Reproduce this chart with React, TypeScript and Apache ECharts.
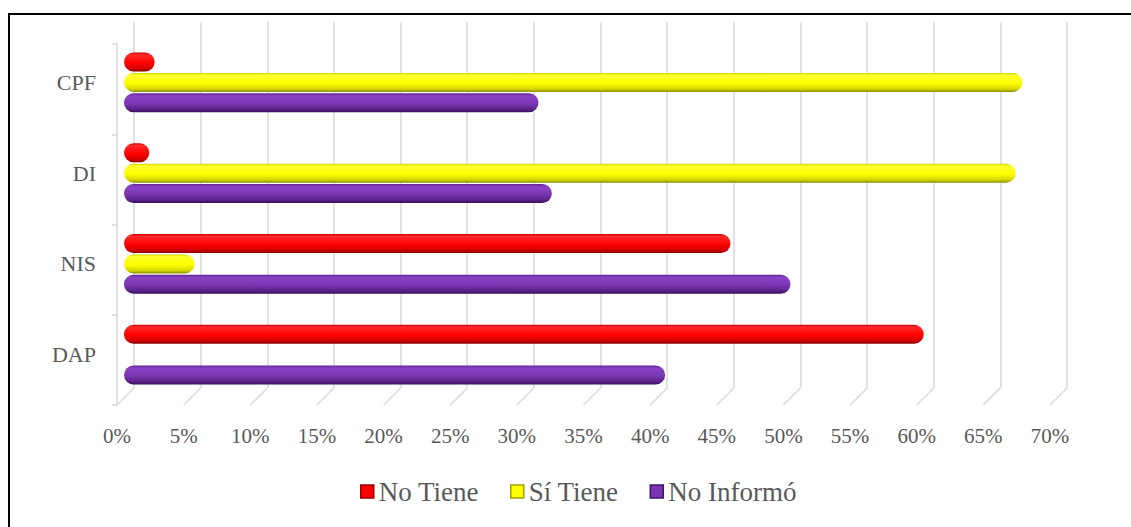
import React, { useEffect, useRef } from "react";
import * as echarts from "echarts";

const categories = ["DAP", "NIS", "DI", "CPF"];
const seriesNames = ["No Tiene", "Sí Tiene", "No Informó"];
const noTiene = [60.0, 45.5, 1.9, 2.3];
const siTiene = [0, 5.3, 66.9, 67.4];
const noInformo = [40.6, 50.0, 32.1, 31.1];
const tickValues = [0, 5, 10, 15, 20, 25, 30, 35, 40, 45, 50, 55, 60, 65, 70];

const FONT = "Times New Roman";
const GRID_LINE = "#d9d9d9";

function grad(stops: [number, string][]) {
  return new echarts.graphic.LinearGradient(
    0, 0, 0, 1,
    stops.map(([offset, color]) => ({ offset, color }))
  );
}

const redGrad = () =>
  grad([
    [0, "#c80000"],
    [0.12, "#ff2a2a"],
    [0.55, "#ff0000"],
    [0.85, "#d00000"],
    [1, "#800000"],
  ]);
const yellowGrad = () =>
  grad([
    [0, "#cfcf00"],
    [0.12, "#ffff30"],
    [0.55, "#ffff00"],
    [0.85, "#d6d600"],
    [1, "#8f8f00"],
  ]);
const purpleGrad = () =>
  grad([
    [0, "#5e2690"],
    [0.15, "#8a42c6"],
    [0.55, "#7a36b2"],
    [0.85, "#5a2288"],
    [1, "#36105a"],
  ]);

export default function App() {
  const ref = useRef<HTMLDivElement>(null);

  useEffect(() => {
    if (!ref.current) return;
    const chart = echarts.init(ref.current, undefined, { renderer: "svg" });

    const barCommon = {
      type: "bar" as const,
      xAxisIndex: 0,
      yAxisIndex: 0,
      barWidth: 19,
      barGap: "7%",
      itemStyle: { borderRadius: 9.5 },
    };

    chart.setOption({
      animation: false,
      backgroundColor: "#ffffff",
      textStyle: { fontFamily: FONT },
      grid: [
        { left: 124, top: 37, width: 933, height: 363 },
        { left: 134, top: 22, width: 933, height: 366 },
        { left: 117, top: 44, width: 933, height: 361 },
      ],
      xAxis: [
        { type: "value", gridIndex: 0, min: 0, max: 70, interval: 5, show: false },
        {
          type: "value",
          gridIndex: 1,
          min: 0,
          max: 70,
          interval: 5,
          axisLine: { show: false },
          axisTick: { show: false },
          axisLabel: { show: false },
          splitLine: { show: true, lineStyle: { color: GRID_LINE, width: 1.5 } },
        },
        {
          type: "value",
          gridIndex: 2,
          min: 0,
          max: 70,
          interval: 5,
          axisLine: { show: false },
          axisTick: { show: false },
          splitLine: { show: false },
          axisLabel: {
            formatter: "{value}%",
            fontSize: 21,
            color: "#595959",
            fontFamily: FONT,
            margin: 20,
          },
        },
      ],
      yAxis: [
        {
          type: "category",
          gridIndex: 0,
          data: categories,
          axisLine: { show: false },
          axisTick: { show: false },
          axisLabel: { fontSize: 22, color: "#595959", fontFamily: FONT, margin: 28 },
        },
        { type: "value", gridIndex: 1, min: 0, max: 1, show: false },
        {
          type: "category",
          gridIndex: 2,
          data: categories,
          axisLine: { show: true, lineStyle: { color: GRID_LINE, width: 1.5 } },
          axisTick: { show: true, length: 5, lineStyle: { color: GRID_LINE, width: 1.5 } },
          axisLabel: { show: false },
        },
      ],
      legend: {
        data: [
          { name: seriesNames[0], itemStyle: { color: "#ff0000", borderColor: "#9a0000", borderWidth: 1.5 } },
          { name: seriesNames[1], itemStyle: { color: "#ffff00", borderColor: "#a0a000", borderWidth: 1.5 } },
          { name: seriesNames[2], itemStyle: { color: "#7a36b2", borderColor: "#40146a", borderWidth: 1.5 } },
        ],
        left: 360,
        top: 478,
        padding: 0,
        icon: "rect",
        itemWidth: 13,
        itemHeight: 13,
        itemGap: 31,
        selectedMode: false,
        textStyle: { fontSize: 27, color: "#595959", fontFamily: FONT },
      },
      series: [
        {
          type: "custom",
          name: "floor",
          xAxisIndex: 1,
          yAxisIndex: 1,
          silent: true,
          data: tickValues.map((v) => [v, 0]),
          renderItem: (params: any, api: any) => {
            const p = api.coord([api.value(0), 0]);
            return {
              type: "line",
              shape: { x1: p[0], y1: p[1], x2: p[0] - 17, y2: p[1] + 17 },
              style: { stroke: GRID_LINE, lineWidth: 1.5 },
            };
          },
        },
        { ...barCommon, name: seriesNames[0], data: noTiene, itemStyle: { ...barCommon.itemStyle, color: redGrad() } },
        { ...barCommon, name: seriesNames[1], data: siTiene, itemStyle: { ...barCommon.itemStyle, color: yellowGrad() } },
        { ...barCommon, name: seriesNames[2], data: noInformo, itemStyle: { ...barCommon.itemStyle, color: purpleGrad() } },
      ],
    });

    return () => chart.dispose();
  }, []);

  return (
    <div
      style={{
        position: "fixed",
        left: 0,
        top: 0,
        width: 1131,
        height: 527,
        overflow: "hidden",
        background: "#fff",
      }}
    >
      <div ref={ref} style={{ position: "absolute", left: 0, top: 0, width: 1131, height: 527 }} />
      <div
        style={{
          position: "absolute",
          left: 8,
          top: 13,
          width: 1200,
          height: 600,
          border: "2px solid #000",
          pointerEvents: "none",
        }}
      />
    </div>
  );
}
